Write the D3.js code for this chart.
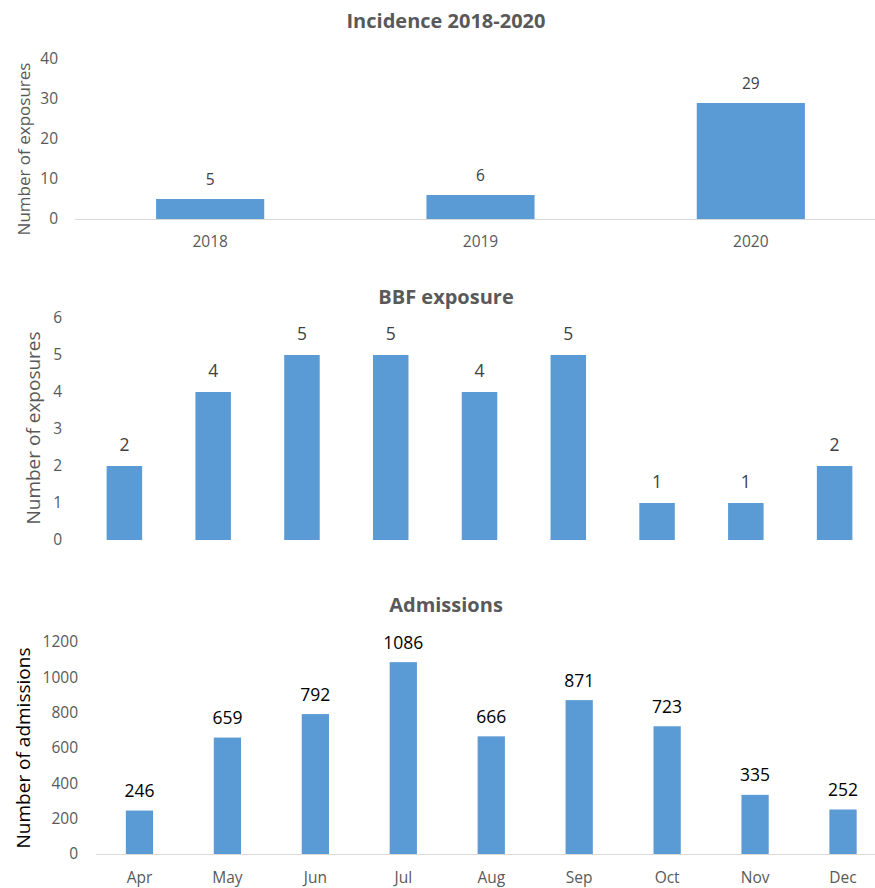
<!DOCTYPE html>
<html>
<head>
<meta charset="utf-8">
<script src="https://cdn.jsdelivr.net/npm/d3@7"></script>
<style>
  html, body { margin: 0; padding: 0; background: #fff; }
  svg { display: block; font-family: "Open Sans", sans-serif; }
</style>
</head>
<body>
<svg id="chart" width="875" height="888"></svg>
<script>
// ---- Data ----
const incidenceYears = ["2018", "2019", "2020"];
const incidenceValues = [5, 6, 29];
const incidenceTicks = [0, 10, 20, 30, 40];

const bbfCategories = ["c1", "c2", "c3", "c4", "c5", "c6", "c7", "c8", "c9"];
const bbfValues = [2, 4, 5, 5, 4, 5, 1, 1, 2];
const bbfTicks = [0, 1, 2, 3, 4, 5, 6];

const admissionMonths = ["Apr", "May", "Jun", "Jul", "Aug", "Sep", "Oct", "Nov", "Dec"];
const admissionValues = [246, 659, 792, 1086, 666, 871, 723, 335, 252];
const admissionTicks = [0, 200, 400, 600, 800, 1000, 1200];

const svg = d3.select("#chart");
const BAR = "#5B9BD5";

function drawChart(o) {
  const g = svg.append("g");
  const x = d3.scaleBand().domain(o.cats).range([o.x0, o.x1]).paddingInner(o.pad).paddingOuter(o.pad / 2);
  const y = d3.scaleLinear().domain([0, o.ymax]).range([o.y0, o.yTop]);

  // title
  g.append("text").attr("x", 446).attr("y", o.titleY).attr("text-anchor", "middle")
    .attr("font-size", o.titleSize).attr("font-weight", "bold").attr("fill", "#595959").text(o.title);

  // y axis (tick labels only)
  const ya = g.append("g").attr("transform", `translate(${o.tickX},0)`)
    .call(d3.axisLeft(y).tickValues(o.ticks).tickFormat(d3.format("d")).tickSize(0).tickPadding(0));
  ya.select(".domain").remove();
  ya.selectAll("text").attr("font-size", o.tickSize).attr("fill", "#595959")
    .attr("font-family", "Open Sans, sans-serif");

  // y axis title
  g.append("text").attr("transform", `translate(${o.ytX},${o.ytY}) rotate(-90)`)
    .attr("text-anchor", "middle").attr("font-size", o.ytSize).attr("fill", o.ytColor).text(o.ytitle);

  // x axis
  if (o.showX) {
    g.append("line").attr("x1", o.axisX0).attr("x2", 875).attr("y1", o.y0 + 0.5).attr("y2", o.y0 + 0.5)
      .attr("stroke", "#d9d9d9").attr("stroke-width", 1);
    const xa = g.append("g").attr("transform", `translate(0,${o.y0})`)
      .call(d3.axisBottom(x).tickSize(0).tickPadding(o.xPad));
    xa.select(".domain").remove();
    xa.selectAll("text").attr("font-size", o.xSize).attr("fill", "#595959")
      .attr("font-family", "Open Sans, sans-serif");
  }

  // bars
  g.selectAll("rect.bar").data(o.vals).join("rect").attr("class", "bar")
    .attr("x", (d, i) => x(o.cats[i])).attr("width", x.bandwidth())
    .attr("y", d => y(d)).attr("height", d => o.y0 - y(d)).attr("fill", BAR);

  // data labels
  g.selectAll("text.lbl").data(o.vals).join("text").attr("class", "lbl")
    .attr("x", (d, i) => x(o.cats[i]) + x.bandwidth() / 2).attr("y", d => y(d) - o.lblGap)
    .attr("text-anchor", "middle").attr("font-size", o.lblSize).attr("fill", o.lblColor).text(d => d);
}

drawChart({
  title: "Incidence 2018-2020", titleY: 28, titleSize: 20,
  cats: incidenceYears, vals: incidenceValues, ticks: incidenceTicks, ymax: 40,
  x0: 75, x1: 886, pad: 0.6, y0: 219, yTop: 59,
  tickX: 58, tickSize: 15.5, ytitle: "Number of exposures", ytX: 30, ytY: 149, ytSize: 17, ytColor: "#595959",
  showX: true, axisX0: 75, xPad: 17, xSize: 15.5,
  lblSize: 15.5, lblColor: "#404040", lblGap: 14
});

drawChart({
  title: "BBF exposure", titleY: 304, titleSize: 20,
  cats: bbfCategories, vals: bbfValues, ticks: bbfTicks, ymax: 6,
  x0: 80, x1: 879, pad: 0.6, y0: 540, yTop: 318,
  tickX: 62, tickSize: 15.5, ytitle: "Number of exposures", ytX: 40, ytY: 428, ytSize: 19, ytColor: "#595959",
  showX: false,
  lblSize: 17.5, lblColor: "#404040", lblGap: 15
});

drawChart({
  title: "Admissions", titleY: 612, titleSize: 20,
  cats: admissionMonths, vals: admissionValues, ticks: admissionTicks, ymax: 1200,
  x0: 95.5, x1: 887, pad: 0.69, y0: 854, yTop: 642,
  tickX: 78, tickSize: 15.5, ytitle: "Number of admissions", ytX: 30, ytY: 748, ytSize: 19, ytColor: "#000000",
  showX: true, axisX0: 96, xPad: 18, xSize: 15.5,
  lblSize: 17.5, lblColor: "#000000", lblGap: 13.5
});
</script>
</body>
</html>
